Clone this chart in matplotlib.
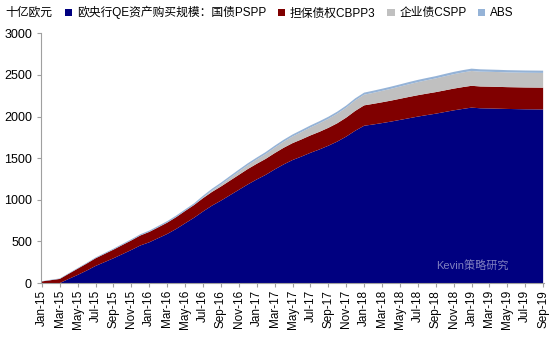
import matplotlib
matplotlib.use('Agg')
from matplotlib import pyplot as plt
import numpy as np
import pandas as pd

plt.rcParams['font.family'] = ['Liberation Sans', 'Noto Sans CJK SC', 'DejaVu Sans']

# monthly, Jan-15 .. Sep-19, bn EUR
months = pd.date_range('2015-01-01', '2019-09-01', freq='MS')

pspp = [0, 0, 0, 50, 98, 150, 206, 252, 298, 348, 398, 452,
        490, 540, 590, 650, 718, 785, 860, 930, 990, 1055, 1120, 1185,
        1245, 1300, 1365, 1425, 1478, 1520, 1565, 1605, 1650, 1700, 1760, 1830,
        1890, 1905, 1922, 1940, 1960, 1980, 2000, 2018, 2035, 2055, 2075, 2092,
        2108, 2100, 2098, 2095, 2092, 2090, 2088, 2087, 2086]
cbpp3 = [20, 35, 50, 62, 75, 84, 92, 98, 104, 110, 115, 120,
         125, 130, 136, 142, 148, 153, 160, 165, 170, 175, 180, 185,
         188, 192, 196, 200, 203, 206, 209, 212, 215, 220, 228, 238,
         245, 248, 250, 252, 254, 256, 257, 258, 259, 260, 261, 262,
         262, 262, 262, 262, 262, 262, 262, 262, 262]
cspp = [0, 0, 0, 0, 0, 0, 0, 0, 0, 0, 0, 0,
        0, 0, 0, 0, 0, 0, 8, 16, 24, 32, 40, 46,
        52, 58, 65, 72, 80, 88, 95, 102, 108, 115, 120, 126,
        128, 132, 137, 142, 147, 152, 157, 161, 165, 169, 173, 176,
        178, 178, 178, 178, 177, 177, 177, 177, 177]
abs_ = [3, 5, 6, 7, 8, 9, 10, 11, 12, 13, 14, 15,
        16, 17, 18, 19, 19, 20, 21, 22, 22, 23, 23, 23,
        23, 24, 24, 24, 24, 25, 25, 25, 25, 25, 25, 25,
        25, 26, 26, 26, 26, 27, 27, 27, 27, 28, 28, 28,
        28, 28, 27, 27, 27, 27, 27, 27, 27]

labels = ['欧央行QE资产购买规模：国债PSPP', '担保债权CBPP3', '企业债CSPP', 'ABS']
colors = ['#000080', '#800000', '#C0C0C0', '#95B3D7']

fig = plt.figure(figsize=(5.54, 3.37), dpi=100)
ax = fig.add_axes([0.074, 0.160, 0.908, 0.741])

x = np.arange(len(months))
ax.stackplot(x, pspp, cbpp3, cspp, abs_, colors=colors, labels=labels, linewidth=0)

ax.set_ylim(0, 3000)
ax.set_yticks(range(0, 3001, 500))
ax.set_xlim(-0.1, len(months) - 0.9)
ax.set_xticks(x[::2])
ax.set_xticklabels([d.strftime('%b-%y') for d in months[::2]], rotation=90, fontsize=8.5)
ax.tick_params(axis='y', labelsize=9, length=3, color='#A0A0A0')
ax.tick_params(axis='x', length=3, color='#A0A0A0', pad=2)

for side in ['top', 'right']:
    ax.spines[side].set_visible(False)
for side in ['left', 'bottom']:
    ax.spines[side].set_color('#A0A0A0')

fig.text(0.009, 0.962, '十亿欧元', fontsize=8.5, va='center')
fig.legend(loc='center left', bbox_to_anchor=(0.118, 0.962), ncol=4, frameon=False,
           fontsize=8.5, handlelength=0.6, handleheight=0.6, handletextpad=0.4,
           columnspacing=1.0, borderpad=0, borderaxespad=0)

ax.text(0.93, 0.05, 'Kevin策略研究', transform=ax.transAxes, fontsize=8,
        color='white', alpha=0.5, ha='right', va='bottom')

fig.savefig('out.png', dpi=100)
